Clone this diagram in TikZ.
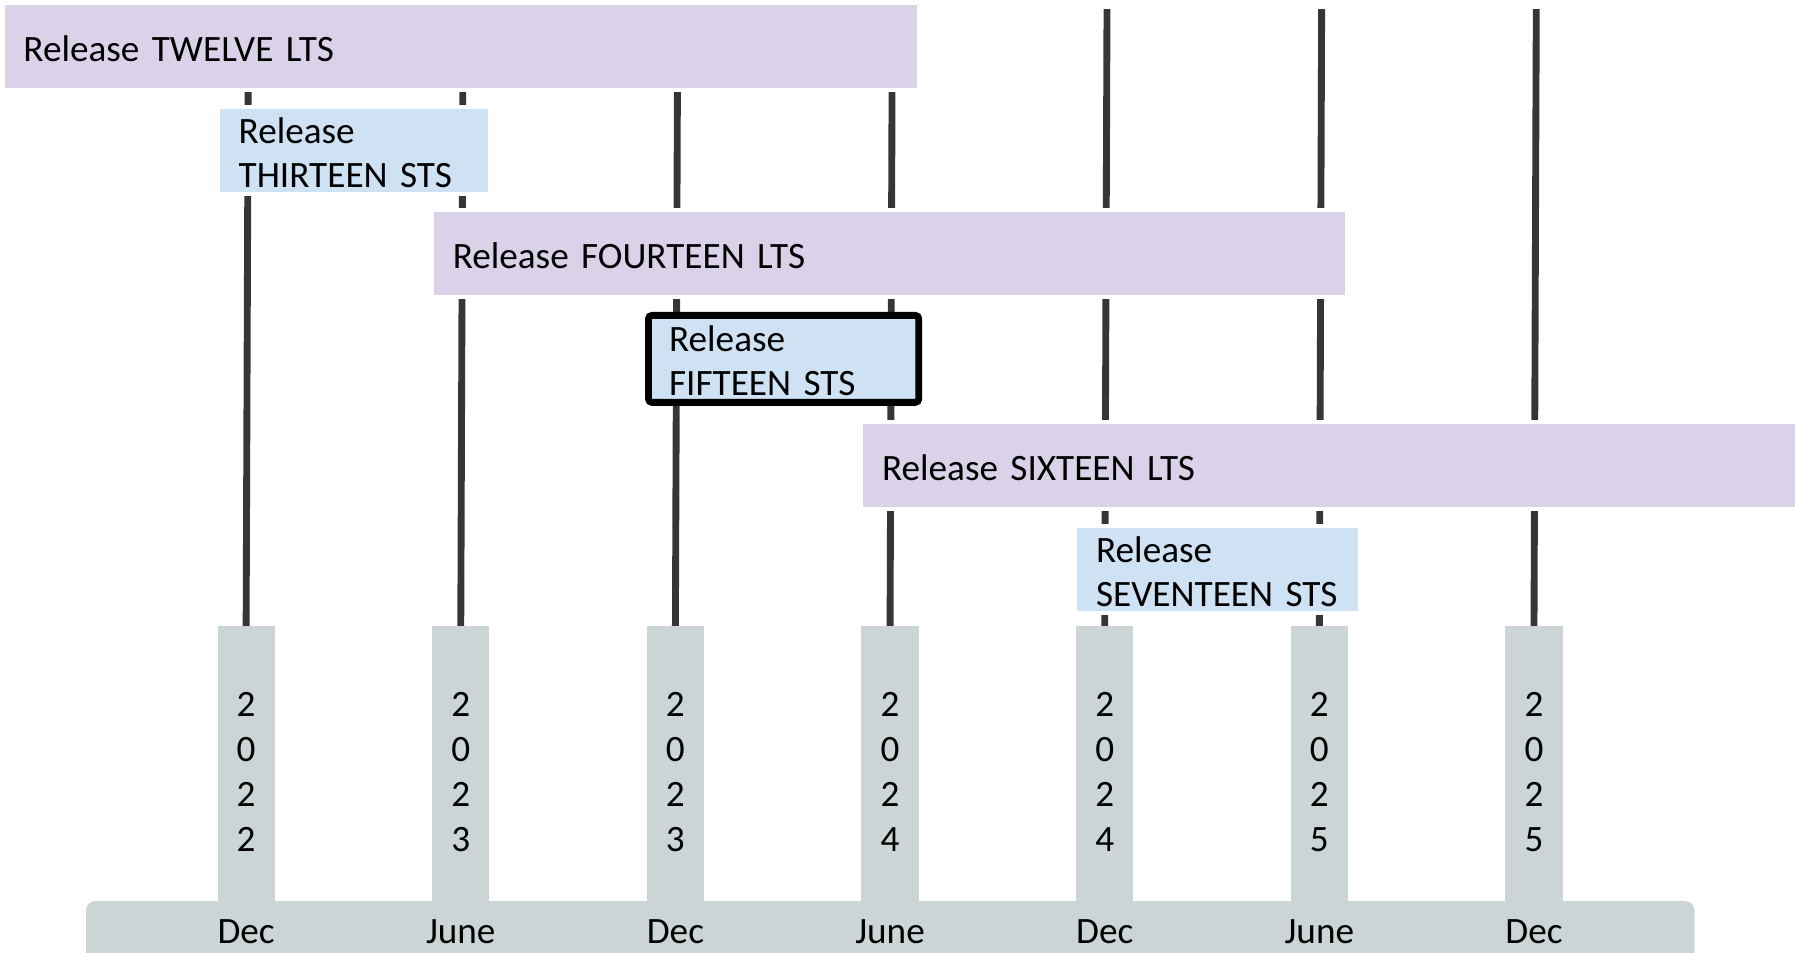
\documentclass[tikz,border=0pt]{standalone}
\usepackage{fontspec}
\setmainfont{Carlito}
\usetikzlibrary{backgrounds}
\definecolor{ltsfill}{HTML}{D9D2E9}
\definecolor{stsfill}{HTML}{CFE2F3}
\definecolor{axisfill}{HTML}{CBD5D5}
\definecolor{stemcol}{HTML}{363636}

\begin{document}
\begin{tikzpicture}[x=1pt,y=-1pt,
  every node/.style={font=\fontsize{32.5}{38}\selectfont, text=black},
  relbox/.style={draw=white, line width=3pt, anchor=north west, outer sep=0pt,
    inner xsep=18pt, inner ysep=0pt, align=left, minimum height=76pt,
    text height=26pt},
  lts/.style={relbox, fill=ltsfill},
  sts/.style={relbox, fill=stsfill},
  current/.style={relbox, fill=stsfill, draw=black, line width=6pt, rounded corners=3pt},
  yearcol/.style={fill=axisfill, anchor=north, inner sep=0pt, outer sep=0pt,
    minimum width=50pt, minimum height=255pt, align=center,
    font=\fontsize{32.5}{39.3}\selectfont},
  axisbar/.style={fill=axisfill, anchor=north west, inner sep=0pt,
    minimum width=1405pt, minimum height=70pt, rounded corners=8pt},
  month/.style={anchor=base, inner sep=0pt},
  stem/.style={draw=stemcol, line width=6pt}
]
\useasboundingbox (0,0) rectangle (1568,832);

% axis bar and year columns
\node[axisbar] (bar) at (75,787) {};
\foreach \i/\cx/\yr/\mo in {1/215/2/Dec, 2/402.5/3/June, 3/590/3/Dec,
    4/777.5/4/June, 5/965/4/Dec, 6/1152.5/5/June, 7/1340/5/Dec} {
  \node[yearcol] (c\i) at (\cx,547) {2\\0\\2\\\yr};
  \node[month] (m\i) at (\cx,824) {\mo};
  \coordinate (t\i) at (\cx+2,8);
}

% release bars
\node[lts, minimum width=800pt, text width=764pt] (r12) at (2.5,2.5) {Release TWELVE LTS};
\node[sts, minimum width=237pt, text width=201pt] (r13) at (190.5,93.5) {Release\\THIRTEEN STS};
\node[lts, minimum width=799pt, text width=763pt] (r14) at (377.5,183.5) {Release FOURTEEN LTS};
\node[current, minimum width=236pt, text width=200pt] (r15) at (566.5,275.5) {Release\\FIFTEEN STS};
\node[lts, minimum width=827pt, text width=791pt] (r16) at (752.5,368.5) {Release SIXTEEN LTS};
\node[sts, minimum width=248pt, text width=212pt] (r17) at (939.5,459.5) {Release\\SEVENTEEN STS};

% time stems behind the bars
\begin{scope}[on background layer]
  \foreach \i in {1,...,7} {
    \draw[stem] (t\i) -- (c\i.north);
  }
\end{scope}
\end{tikzpicture}
\end{document}
